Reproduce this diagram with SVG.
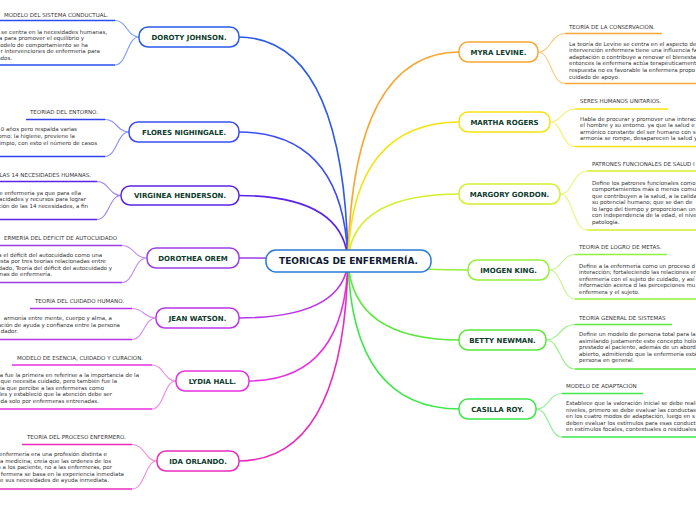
<svg xmlns="http://www.w3.org/2000/svg" width="696" height="520" viewBox="0 0 696 520">
<style>
.bg{fill:#ffffff}
.c{fill:none;stroke-width:1.6;stroke-linecap:round}
.s{fill:none;stroke-width:1.1}
.u{fill:none;stroke-width:1.7}
.n{fill:#ffffff;stroke-width:1.5}
.nt{font-family:"DejaVu Sans",Verdana,sans-serif;font-size:7px;font-weight:bold;fill:#0e3b2c;text-anchor:middle}
.ct{font-family:"DejaVu Sans",Verdana,sans-serif;font-size:9px;font-weight:bold;fill:#0e1a33;text-anchor:middle}
.t{font-family:"DejaVu Sans",Verdana,sans-serif;font-size:5.5px;fill:#333333}
.e{text-anchor:end}
</style>
<rect class="bg" x="0" y="0" width="696" height="520"/>
<g id="connectors">
<!-- main connectors -->
<path class="c" stroke="#2a5bea" d="M348,261 Q344,37 238,37"/>
<path class="c" stroke="#3b4cf5" d="M348,261 Q344,132 238,132"/>
<path class="c" stroke="#5a25e8" d="M348,261 Q344,195.5 238,195.5"/>
<path class="c" stroke="#9b3fe8" d="M348,261 Q300,258 238,258"/>
<path class="c" stroke="#b935ea" d="M348,261 Q344,318 238,318"/>
<path class="c" stroke="#e830e0" d="M348,261 Q345,381 248,381"/>
<path class="c" stroke="#ea2cbc" d="M348,261 Q344,461 238,461"/>
<path class="c" stroke="#f7a733" d="M348,261 Q352,52 460,52"/>
<path class="c" stroke="#f5e30f" d="M348,261 Q352,122 460,122"/>
<path class="c" stroke="#d4f02a" d="M348,261 Q352,194 460,194"/>
<path class="c" stroke="#95ef3a" d="M348,261 Q400,270 469,270"/>
<path class="c" stroke="#5ae83a" d="M348,261 Q352,340 460,340"/>
<path class="c" stroke="#3de84a" d="M348,261 Q352,409 460,409"/>
<!-- sub connectors left -->
<path class="s" stroke="#7e9cf7" d="M139,37 C127,37 127,20.5 115,20.5 M139,37 C127,37 127,65 115,65"/>
<path class="s" stroke="#8a8ff9" d="M129,132 C117,132 117,119.5 105,119.5 M129,132 C117,132 117,156.5 105,156.5"/>
<path class="s" stroke="#9a80f0" d="M121,195.5 C109,195.5 109,181.5 97,181.5 M121,195.5 C109,195.5 109,219.5 97,219.5"/>
<path class="s" stroke="#c18cf0" d="M147,258 C134,258 134,245.5 122,245.5 M147,258 C134,258 134,282.5 122,282.5"/>
<path class="s" stroke="#d68af2" d="M156,318 C144,318 144,308.5 132,308.5 M156,318 C144,318 144,339.5 132,339.5"/>
<path class="s" stroke="#f08aec" d="M176,381 C164,381 164,365 152,365 M176,381 C164,381 164,409 152,409"/>
<path class="s" stroke="#f28ad8" d="M157,461 C145,461 145,444.5 132,444.5 M157,461 C145,461 145,489 132,489"/>
<!-- sub connectors right -->
<path class="s" stroke="#fbcb7a" d="M538,52 C551,52 551,33.5 565,33.5 M538,52 C551,52 551,83.5 565,83.5"/>
<path class="s" stroke="#f8ee6a" d="M550,122 C562,122 562,109 575,109 M550,122 C562,122 562,146.5 575,146.5"/>
<path class="s" stroke="#e6f77a" d="M560,194 C573,194 573,171 587,171 M560,194 C573,194 573,230 587,230"/>
<path class="s" stroke="#bdf585" d="M549,270 C562,270 562,254.5 575,254.5 M549,270 C562,270 562,299 575,299"/>
<path class="s" stroke="#93ef80" d="M546,340 C560,340 560,324.5 575,324.5 M546,340 C560,340 560,369 575,369"/>
<path class="s" stroke="#86f08e" d="M536,409 C549,409 549,393.5 562,393.5 M536,409 C549,409 549,437 562,437"/>
</g>
<g id="central">
<rect class="n" stroke="#2b7bd6" x="266" y="250" width="165" height="22" rx="10"/>
<text class="ct" x="348.5" y="264.3">TEORICAS DE ENFERMERÍA.</text>
</g>
<g id="doroty">
<rect class="n" stroke="#2a5bea" x="139" y="27" width="100" height="20" rx="9"/>
<text class="nt" x="189" y="39.5">DOROTY JOHNSON.</text>
<path class="u" stroke="#2a4ff0" d="M0,20.5 H115 M0,65 H115"/>
<text class="t" x="4" y="17">MODELO DEL SISTEMA CONDUCTUAL.</text>
<text class="t e" x="107" y="33.5">se centra en la necesidades humanas,</text>
<text class="t e" x="84" y="40">a para promover el equilibrio y</text>
<text class="t e" x="88" y="46.5">odelo de comportamiento se ha</text>
<text class="t e" x="100" y="53">r intervenciones de enfermería para</text>
<text class="t e" x="12" y="59.5">ados.</text>
</g>
<g id="flores">
<rect class="n" stroke="#3b4cf5" x="129" y="122" width="110" height="20" rx="9"/>
<text class="nt" x="184" y="134.5">FLORES NIGHINGALE.</text>
<path class="u" stroke="#3340f0" d="M26,119.5 H105 M0,156.5 H105"/>
<text class="t" x="30" y="114">TEORIAD DEL ENTORNO.</text>
<text class="t e" x="77" y="131">0 años pero respalda varias</text>
<text class="t e" x="75" y="138">omo: la higiene, previene la</text>
<text class="t e" x="97" y="145">impio, con esto el número de casos</text>
</g>
<g id="virginea">
<rect class="n" stroke="#5a25e8" x="121" y="186" width="118" height="19" rx="9"/>
<text class="nt" x="180" y="198">VIRGINEA HENDERSON.</text>
<path class="u" stroke="#5a25e8" d="M0,181.5 H97 M0,219.5 H97"/>
<text class="t e" x="91" y="177">LAS 14 NECESIDADES HUMANAS.</text>
<text class="t e" x="81" y="194.5">e enfermería ya que para ella</text>
<text class="t e" x="86" y="201">acidades y recursos para lograr</text>
<text class="t e" x="88" y="207.5">ción de las 14 necesidades, a fin</text>
</g>
<g id="dorothea">
<rect class="n" stroke="#9b3fe8" x="147" y="248" width="92" height="20" rx="9"/>
<text class="nt" x="193" y="260.5">DOROTHEA OREM</text>
<path class="u" stroke="#9b3fe8" d="M0,245.5 H122 M0,282.5 H122"/>
<text class="t e" x="117" y="240">ERMERÍA DEL DÉFICIT DE AUTOCUIDADO</text>
<text class="t e" x="102" y="256.5">a el déficit del autocuidado como una</text>
<text class="t e" x="106" y="263">esta por tres teorías relacionadas entre</text>
<text class="t e" x="112" y="269.5">dado, Teoría del déficit del autocuidado y</text>
<text class="t e" x="52" y="276">mas de enfermería.</text>
</g>
<g id="jean">
<rect class="n" stroke="#b935ea" x="156" y="308" width="83" height="20" rx="9"/>
<text class="nt" x="197.5" y="320.5">JEAN WATSON.</text>
<path class="u" stroke="#b935ea" d="M30,308.5 H132 M0,339.5 H132"/>
<text class="t" x="35" y="303">TEORÍA DEL CUIDADO HUMANO.</text>
<text class="t e" x="112" y="320">armonía entre mente, cuerpo y alma, a</text>
<text class="t e" x="120" y="326.5">ación de ayuda y confianza entre la persona</text>
<text class="t e" x="18" y="333">dador.</text>
</g>
<g id="lydia">
<rect class="n" stroke="#e830e0" x="176" y="371" width="73" height="20" rx="9"/>
<text class="nt" x="212.5" y="383.5">LYDIA HALL.</text>
<path class="u" stroke="#e830e0" d="M12,365 H152 M0,409 H152"/>
<text class="t" x="17" y="360">MODELO DE ESENCIA, CUIDADO Y CURACIÓN.</text>
<text class="t e" x="139" y="376.5">ia fue la primera en referirse a la importancia de la</text>
<text class="t e" x="117" y="383">ntal que necesita cuidado, pero también fue la</text>
<text class="t e" x="104" y="389.5">oría que percibe a las enfermeras como</text>
<text class="t e" x="112" y="396">ales y estableció que la atención debe ser</text>
<text class="t e" x="99" y="402.5">ada solo por enfermeras entrenadas.</text>
</g>
<g id="ida">
<rect class="n" stroke="#ea2cbc" x="157" y="451" width="82" height="20" rx="9"/>
<text class="nt" x="198" y="463.5">IDA ORLANDO.</text>
<path class="u" stroke="#ea2cbc" d="M22,444.5 H132 M0,489 H132"/>
<text class="t" x="27" y="439">TEORÍA DEL PROCESO ENFERMERO.</text>
<text class="t e" x="107" y="456">enfermería era una profesión distinta e</text>
<text class="t e" x="111" y="462.5">a medicina; creía que las ordenes de los</text>
<text class="t e" x="112" y="469">an a los paciente, no a las enfermeras, por</text>
<text class="t e" x="124" y="475.5">fermera se basa en la experiencia inmediata</text>
<text class="t e" x="109" y="482">e sus necesidades de ayuda inmediata.</text>
</g>
<g id="myra">
<rect class="n" stroke="#f7a733" x="459" y="42" width="79" height="20" rx="9"/>
<text class="nt" x="498.5" y="54.5">MYRA LEVINE.</text>
<path class="u" stroke="#f7a733" d="M565,33.5 H662 M565,83.5 H696"/>
<text class="t" x="569" y="28.5">TEORÍA DE LA CONSERVACIÓN.</text>
<text class="t" x="569" y="45.5">La teoría de Levine se centra en el aspecto de</text>
<text class="t" x="569" y="52.1">intervención enfermera tiene una influencia fa</text>
<text class="t" x="569" y="58.7">adaptación o contribuye a renovar el bienesta</text>
<text class="t" x="569" y="65.3">entonces la enfermera actúa terapéuticament</text>
<text class="t" x="569" y="71.9">respuesta no es favorable la enfermera propo</text>
<text class="t" x="569" y="78.5">cuidado de apoyo.</text>
</g>
<g id="martha">
<rect class="n" stroke="#f5e30f" x="459" y="112" width="91" height="20" rx="9"/>
<text class="nt" x="504.5" y="124.5">MARTHA ROGERS</text>
<path class="u" stroke="#f5e30f" d="M575,109 H668 M575,146.5 H696"/>
<text class="t" x="580" y="102.5">SERES HUMANOS UNITARIOS.</text>
<text class="t" x="580" y="120.5">Habla de procurar y promover una interac</text>
<text class="t" x="580" y="127">el hombre y su entorno. ya que la salud e</text>
<text class="t" x="580" y="133.5">armónico constante del ser humano con su</text>
<text class="t" x="580" y="140">armonía se rompe, desaparecen la salud y</text>
</g>
<g id="margory">
<rect class="n" stroke="#d4f02a" x="459" y="184" width="101" height="20" rx="9"/>
<text class="nt" x="509.5" y="196.5">MARGORY GORDON.</text>
<path class="u" stroke="#d4f02a" d="M587,171 H696 M587,230 H696"/>
<text class="t" x="592" y="166">PATRONES FUNCIONALES DE SALUD I</text>
<text class="t" x="592" y="184.5">Define los patrones funcionales como</text>
<text class="t" x="592" y="191">comportamientos más o menos comu</text>
<text class="t" x="592" y="197.5">que contribuyen a la salud, a la calidad</text>
<text class="t" x="592" y="204">su potencial humano; que se dan de</text>
<text class="t" x="592" y="210.5">lo largo del tiempo y proporcionan un</text>
<text class="t" x="592" y="217">con independencia de la edad, el nivel</text>
<text class="t" x="592" y="223.5">patología.</text>
</g>
<g id="imogen">
<rect class="n" stroke="#95ef3a" x="468" y="260" width="81" height="20" rx="9"/>
<text class="nt" x="508.5" y="272.5">IMOGEN KING.</text>
<path class="u" stroke="#95ef3a" d="M575,254.5 H667 M575,299 H696"/>
<text class="t" x="579" y="248.5">TEORIA DE LOGRO DE METAS.</text>
<text class="t" x="579" y="267.5">Define a la enfermería como un proceso d</text>
<text class="t" x="579" y="274">interacción; fortaleciendo las relaciones en</text>
<text class="t" x="579" y="280.5">enfermería con el sujeto de cuidado, y así</text>
<text class="t" x="579" y="287">información acerca d las percepciones mu</text>
<text class="t" x="579" y="293.5">enfermera y el sujeto.</text>
</g>
<g id="betty">
<rect class="n" stroke="#5ae83a" x="459" y="330" width="87" height="20" rx="9"/>
<text class="nt" x="502.5" y="342.5">BETTY NEWMAN.</text>
<path class="u" stroke="#5ae83a" d="M575,324.5 H672 M575,369 H696"/>
<text class="t" x="579" y="320">TEORÍA GENERAL DE SISTEMAS</text>
<text class="t" x="579" y="336">Define un modelo de persona total para la</text>
<text class="t" x="579" y="342.5">asimilando justamente este concepto holís</text>
<text class="t" x="579" y="349">prestado al paciente, además de un abord</text>
<text class="t" x="579" y="355.5">abierto, admitiendo que la enfermería está</text>
<text class="t" x="579" y="362">persona en general.</text>
</g>
<g id="casilla">
<rect class="n" stroke="#3de84a" x="459" y="399" width="77" height="20" rx="9"/>
<text class="nt" x="497.5" y="411.5">CASILLA ROY.</text>
<path class="u" stroke="#3de84a" d="M562,393.5 H643 M562,437 H696"/>
<text class="t" x="566" y="387.5">MODELO DE ADAPTACIÓN</text>
<text class="t" x="566" y="405">Establece que la valoración inicial se debe reali</text>
<text class="t" x="566" y="411.5">niveles, primero se debe evaluar las conductas</text>
<text class="t" x="566" y="418">en los cuatro modos de adaptación, luego en s</text>
<text class="t" x="566" y="424.5">deben evaluar los estímulos para esas conduct</text>
<text class="t" x="566" y="431">en estímulos focales, contextuales o residuales</text>
</g>
</svg>
